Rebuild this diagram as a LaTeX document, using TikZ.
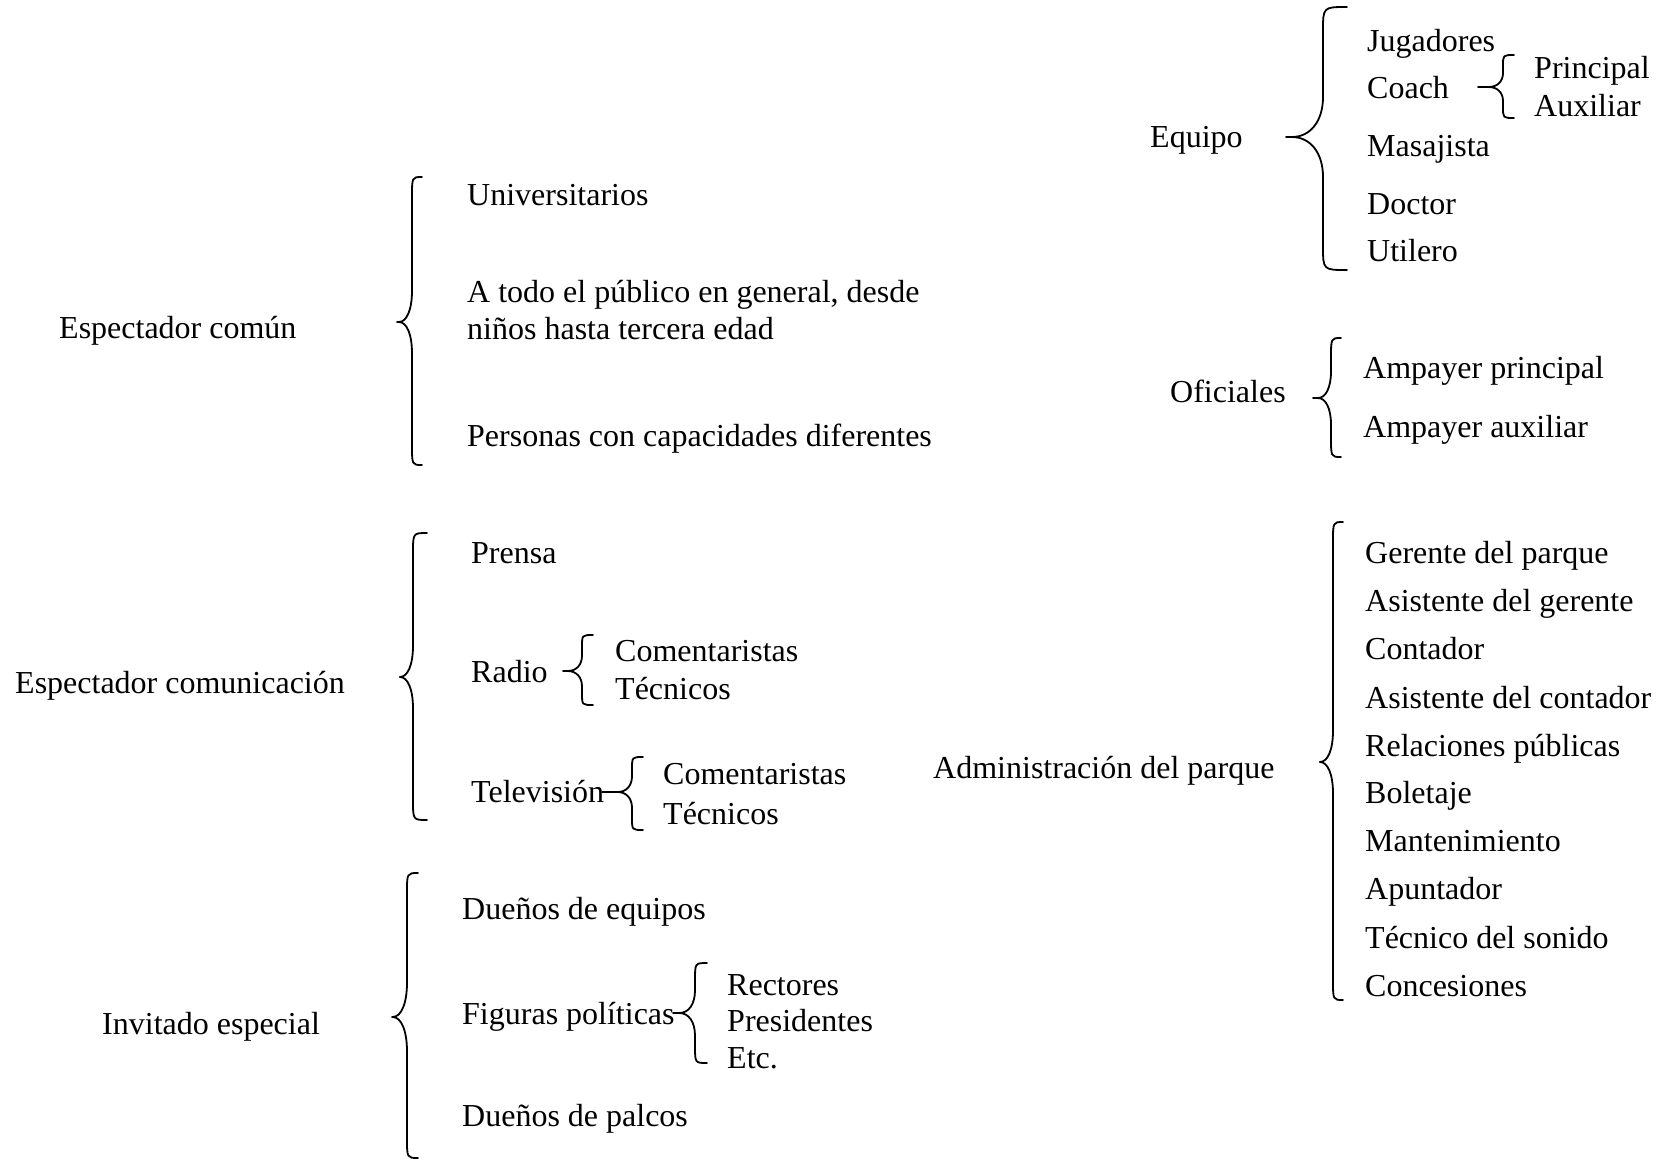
\documentclass[tikz,border=0pt]{standalone}
\usepackage{fontspec}
\setmainfont{Liberation Serif}
\tikzset{
  txt/.style={anchor=base west, inner sep=0pt, font=\fontsize{32}{38}\selectfont},
  bracestyle/.style={line width=1.8pt, line cap=round, line join=round}
}
% #1 name, #2 xtip, #3 xv, #4 xend, #5 top, #6 tipY, #7 bottom
\newcommand\cbrace[7]{%
  \pgfmathsetmacro\brC{#4-#3}%
  \pgfmathsetmacro\brD{min(#3-#2,1.3*\brC)}%
  \pgfmathsetmacro\brHalf{min(#6-#5,#7-#6)}%
  \pgfmathsetmacro\brH{min(max(\brC,20),0.35*\brHalf)}%
  \pgfmathsetmacro\brT{min(2.4*\brD,40,0.45*\brHalf)}%
  \coordinate (#1) at (#2,#6);
  \coordinate (#1-top) at (#4,#5);
  \coordinate (#1-bot) at (#4,#7);
  \draw[bracestyle] (#1-top) .. controls (#3,#5) .. (#3,#5+\brH)
    -- (#3,#6-\brT) .. controls (#3,#6-0.4*\brT) and (#3-0.4*\brD,#6) .. (#3-\brD,#6)
    .. controls (#3-0.4*\brD,#6) and (#3,#6+0.4*\brT) .. (#3,#6+\brT)
    -- (#3,#7-\brH) .. controls (#3,#7) .. (#1-bot);
  \draw[bracestyle] (#3-\brD,#6) -- (#1);
}
\begin{document}
\begin{tikzpicture}[x=1pt,y=-1pt]
\useasboundingbox (0,0) rectangle (1663,1160);

% ---------- Espectador común ----------
\node[txt] (ecomun) at (59,338) {Espectador común};
\cbrace{b1}{397}{412}{422}{177}{322}{465}
\node[txt] (univ) at (467,205) {Universitarios};
\node[txt] (todo1) at (467,302) {A todo el público en general, desde};
\node[txt] (todo2) at (467,339) {niños hasta tercera edad};
\node[txt] (personas) at (467,446) {Personas con capacidades diferentes};

% ---------- Espectador comunicación ----------
\node[txt] (ecom) at (15,693) {Espectador comunicación};
\cbrace{b2}{400}{413}{427}{533}{677}{820}
\node[txt] (prensa) at (471,563) {Prensa};
\node[txt] (radio) at (471,682) {Radio};
\cbrace{br}{563}{582}{593}{635}{671}{705}
\node[txt] (rcom) at (615,661) {Comentaristas};
\node[txt] (rtec) at (615,699) {Técnicos};
\node[txt] (tv) at (471,802) {Televisión};
\cbrace{btv}{602}{632}{643}{757}{792}{830}
\node[txt] (tvcom) at (663,784) {Comentaristas};
\node[txt] (tvtec) at (663,824) {Técnicos};

% ---------- Invitado especial ----------
\node[txt] (invitado) at (102,1034) {Invitado especial};
\cbrace{b3}{392}{407}{418}{873}{1017}{1158}
\node[txt] (duenos) at (462,919) {Dueños de equipos};
\node[txt] (figuras) at (462,1024) {Figuras políticas};
\cbrace{bfig}{673}{695}{707}{963}{1013}{1063}
\node[txt] (rectores) at (727,995) {Rectores};
\node[txt] (presid) at (727,1031) {Presidentes};
\node[txt] (etc) at (727,1068) {Etc.};
\node[txt] (palcos) at (462,1126) {Dueños de palcos};

% ---------- Equipo ----------
\node[txt] (equipo) at (1150,147) {Equipo};
\cbrace{beq}{1286}{1323}{1347}{7}{137}{270}
\node[txt] (jug) at (1367,51) {Jugadores};
\node[txt] (coach) at (1367,98) {Coach};
\cbrace{bco}{1478}{1503}{1514}{55}{87}{118}
\node[txt] (princ) at (1534,78) {Principal};
\node[txt] (aux) at (1534,116) {Auxiliar};
\node[txt] (masa) at (1367,156) {Masajista};
\node[txt] (doctor) at (1367,214) {Doctor};
\node[txt] (util) at (1367,261) {Utilero};

% ---------- Oficiales ----------
\node[txt] (ofic) at (1170,402) {Oficiales};
\cbrace{bof}{1313}{1331}{1341}{338}{398}{457}
\node[txt] (ampp) at (1363,378) {Ampayer principal};
\node[txt] (ampa) at (1363,437) {Ampayer auxiliar};

% ---------- Administración ----------
\node[txt] (admin) at (933,778) {Administración del parque};
\cbrace{bad}{1320}{1333}{1343}{522}{762}{1000}
\node[txt] (a1) at (1365,563) {Gerente del parque};
\node[txt] (a2) at (1365,611) {Asistente del gerente};
\node[txt] (a3) at (1365,659) {Contador};
\node[txt] (a4) at (1365,708) {Asistente del contador};
\node[txt] (a5) at (1365,756) {Relaciones públicas};
\node[txt] (a6) at (1365,803) {Boletaje};
\node[txt] (a7) at (1365,851) {Mantenimiento};
\node[txt] (a8) at (1365,899) {Apuntador};
\node[txt] (a9) at (1365,948) {Técnico del sonido};
\node[txt] (a10) at (1365,996) {Concesiones};
\end{tikzpicture}
\end{document}
